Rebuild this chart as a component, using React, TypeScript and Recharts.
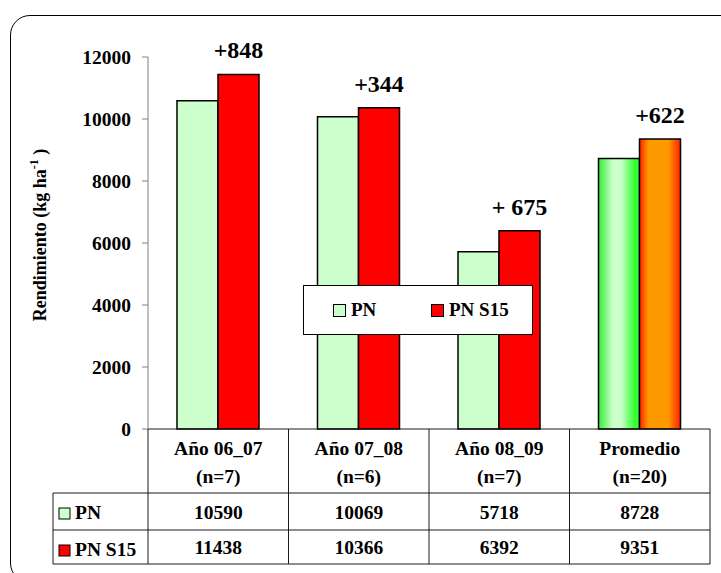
import React from 'react'
import { BarChart, Bar, XAxis, YAxis, Legend, LabelList, Cell } from 'recharts'

const categories = ['Año 06_07', 'Año 07_08', 'Año 08_09', 'Promedio']
const sampleSizes = ['(n=7)', '(n=6)', '(n=7)', '(n=20)']
const pnValues = [10590, 10069, 5718, 8728]
const pnS15Values = [11438, 10366, 6392, 9351]
const differences = ['+848', '+344', '+ 675', '+622']
const yTicks = [0, 2000, 4000, 6000, 8000, 10000, 12000]
const seriesNames = ['PN', 'PN S15']
const seriesColors = ['#ccffcc', '#ff0000']

const data = categories.map((c, i) => ({
  category: c,
  pn: pnValues[i],
  pnS15: pnS15Values[i],
}))

const W = 721
const H = 573
const MARGIN = { top: 57, right: 11, bottom: 0, left: 0 }
const Y_AXIS_W = 148
const X_AXIS_H = 144
const BAND = (W - MARGIN.right - Y_AXIS_W) / categories.length
const FONT = 'Liberation Serif, Tinos, DejaVu Serif, Times New Roman, serif'
const LINE = '#1a1a1a'
const AVG = categories.length - 1

const txt = {
  fontFamily: FONT,
  fontWeight: 700,
  fontSize: 19.5,
  fill: '#000',
  textAnchor: 'middle' as const,
}

// x axis drawn as the data table under the plot
function TableTick(props: any) {
  const { x, y, payload } = props
  const i = categories.indexOf(payload.value)
  const left = x - BAND / 2
  const right = x + BAND / 2
  const rows = [y + 64, y + 101, y + 135]
  return (
    <g>
      <line x1={left} y1={y} x2={left} y2={rows[2]} stroke={LINE} />
      {i === AVG && <line x1={right} y1={y} x2={right} y2={rows[2]} stroke={LINE} />}
      {rows.map((ry) => (
        <line key={ry} x1={left} y1={ry} x2={right} y2={ry} stroke={LINE} />
      ))}
      <text {...txt} x={x} y={y + 26}>{categories[i]}</text>
      <text {...txt} x={x} y={y + 54}>{sampleSizes[i]}</text>
      <text {...txt} x={x} y={y + 90}>{pnValues[i]}</text>
      <text {...txt} x={x} y={y + 125}>{pnS15Values[i]}</text>
      {i === 0 && (
        <g>
          <line x1={53} y1={rows[0]} x2={left} y2={rows[0]} stroke={LINE} />
          <line x1={53} y1={rows[1]} x2={left} y2={rows[1]} stroke={LINE} />
          <line x1={53} y1={rows[2]} x2={left} y2={rows[2]} stroke={LINE} />
          <line x1={53} y1={rows[0]} x2={53} y2={rows[2]} stroke={LINE} />
          {seriesNames.map((name, k) => (
            <g key={name}>
              <rect x={59} y={rows[k] + 15} width={11} height={11} fill={seriesColors[k]} stroke="#000" />
              <text {...txt} textAnchor="start" x={75} y={rows[k] + 26}>{name}</text>
            </g>
          ))}
        </g>
      )}
    </g>
  )
}

function YTitle() {
  return (
    <text
      x={46}
      y={235}
      transform="rotate(-90, 46, 235)"
      textAnchor="middle"
      fontFamily={FONT}
      fontWeight={700}
      fontSize={18}
      fill="#000"
    >
      Rendimiento (kg ha
      <tspan dy={-8} fontSize={12}>-1</tspan>
      <tspan dy={8}> )</tspan>
    </text>
  )
}

function LegendBox(props: any) {
  const items = props.payload || []
  return (
    <div
      style={{
        width: 230,
        height: 50,
        boxSizing: 'border-box',
        border: '1px solid #000',
        background: '#fff',
        position: 'relative',
        fontFamily: FONT,
        fontWeight: 700,
        fontSize: 19,
      }}
    >
      {items.map((it: any, k: number) => (
        <div
          key={it.value}
          style={{ position: 'absolute', left: k === 0 ? 29 : 127, top: 13, display: 'flex', alignItems: 'center' }}
        >
          <span
            style={{
              display: 'inline-block',
              width: 11,
              height: 11,
              border: '1px solid #000',
              background: seriesColors[k],
              marginRight: 5,
            }}
          />
          <span>{it.value}</span>
        </div>
      ))}
    </div>
  )
}

function DiffLabel(p: any) {
  const i = p.index ?? pnS15Values.indexOf(p.value)
  return (
    <text
      x={p.x + p.width / 2}
      y={p.y - 16}
      textAnchor="middle"
      fontFamily={FONT}
      fontWeight={700}
      fontSize={24}
      fill="#000"
    >
      {differences[i]}
    </text>
  )
}

export default function App() {
  return (
    <div style={{ position: 'absolute', left: 0, top: 0, width: W, height: H, overflow: 'hidden', background: '#fff', fontFamily: FONT }}>
      <BarChart width={W} height={H} data={data} margin={MARGIN} barCategoryGap={29} barGap={0}>
        <defs>
          <linearGradient id="gradGreen" x1="0" y1="0" x2="1" y2="0">
            <stop offset="0%" stopColor="#33ee33" />
            <stop offset="35%" stopColor="#ccffcc" />
            <stop offset="55%" stopColor="#ccffcc" />
            <stop offset="88%" stopColor="#33ff33" />
            <stop offset="100%" stopColor="#33ff33" />
          </linearGradient>
          <linearGradient id="gradOrange" x1="0" y1="0" x2="1" y2="0">
            <stop offset="0%" stopColor="#ff2200" />
            <stop offset="22%" stopColor="#ff9900" />
            <stop offset="70%" stopColor="#ff9900" />
            <stop offset="100%" stopColor="#ff2200" />
          </linearGradient>
        </defs>
        <XAxis
          dataKey="category"
          height={X_AXIS_H}
          tickSize={0}
          tickMargin={0}
          tickLine={false}
          axisLine={{ stroke: LINE }}
          interval={0}
          tick={<TableTick />}
        />
        <YAxis
          domain={[0, 12000]}
          ticks={yTicks}
          interval={0}
          width={Y_AXIS_W}
          tickSize={6}
          tickMargin={11}
          axisLine={{ stroke: '#808080' }}
          tickLine={{ stroke: '#808080' }}
          tick={{ fontFamily: FONT, fontSize: 19.5, fontWeight: 700, fill: '#000' }}
          label={<YTitle />}
        />
        <Legend
          layout="horizontal"
          verticalAlign="middle"
          align="center"
          content={<LegendBox />}
          wrapperStyle={{ left: 303, top: 285, width: 230, height: 50 }}
        />
        <Bar dataKey="pn" name={seriesNames[0]} fill={seriesColors[0]} stroke="#000" strokeWidth={1.5} isAnimationActive={false}>
          {data.map((d, i) => (
            <Cell key={d.category} fill={i === AVG ? 'url(#gradGreen)' : seriesColors[0]} />
          ))}
        </Bar>
        <Bar dataKey="pnS15" name={seriesNames[1]} fill={seriesColors[1]} stroke="#000" strokeWidth={1.5} isAnimationActive={false}>
          {data.map((d, i) => (
            <Cell key={d.category} fill={i === AVG ? 'url(#gradOrange)' : seriesColors[1]} />
          ))}
          <LabelList dataKey="pnS15" content={<DiffLabel />} />
        </Bar>
      </BarChart>
      <div
        style={{
          position: 'absolute',
          left: 10,
          top: 15,
          width: 730,
          height: 566,
          border: '1.5px solid #000',
          borderRadius: 20,
          pointerEvents: 'none',
        }}
      />
    </div>
  )
}
